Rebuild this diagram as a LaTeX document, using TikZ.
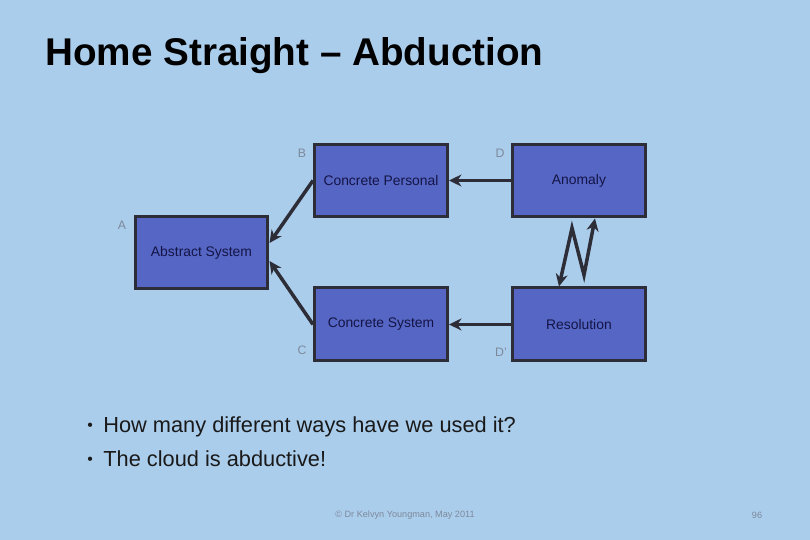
\documentclass[tikz,border=0pt]{standalone}
\usepackage{fontspec}
\setmainfont{Liberation Sans}
\usepackage{xcolor}
\usetikzlibrary{positioning, arrows.meta}

\definecolor{slidebg}{RGB}{171,205,236}
\definecolor{boxfill}{RGB}{85,102,196}
\definecolor{boxline}{RGB}{45,45,55}
\definecolor{boxtext}{RGB}{20,20,70}
\definecolor{labelgray}{RGB}{125,137,155}

\begin{document}
\begin{tikzpicture}[
    x=0.02cm, y=-0.02cm,
    node distance=1.36cm and 1.24cm,
    concept/.style={rectangle, draw=boxline, line width=0.6mm, fill=boxfill, minimum width=2.66cm, minimum height=1.46cm, inner sep=0pt, font=\fontsize{7.9}{9}\selectfont, text=boxtext},
    corner/.style={font=\fontsize{7}{8}\selectfont, text=labelgray, inner sep=0pt},
    link/.style={draw=boxline, line width=0.7mm, -{Stealth[length=2.5mm, width=2.4mm]}},
    bullet/.style={anchor=base west, inner sep=0pt, font=\fontsize{12.4}{14}\selectfont, text=black!90}
]

% Slide background
\fill[slidebg] (0,0) rectangle (810,540);
\useasboundingbox (0,0) rectangle (810,540);

% Title
\node[anchor=base west, inner sep=0pt, font=\fontsize{22}{26}\selectfont\bfseries] (title) at (45,66) {Home Straight -- Abduction};

% Boxes
\node[concept] (cpers) at (381,180.5) {Concrete Personal};
\node[concept, right=of cpers] (anom) {Anomaly};
\node[concept, below=of cpers] (csys) {Concrete System};
\node[concept, below=of anom] (res) {Resolution};
\node[concept] (abs) at (201.5,252.5) {Abstract System};

% Corner letters
\node[corner] (lblA) at (122,225) {A};
\node[corner] (lblB) at (302,153) {B};
\node[corner] (lblC) at (302,350) {C};
\node[corner] (lblD) at (500,153) {D};
\node[corner] (lblDd) at (501,352) {D'};

% Zig-zag points
\coordinate (zz1) at (572,228);
\coordinate (zz2) at (584,275);

% Edges
\draw[link] (anom) -- (cpers);
\draw[link] (res) -- (csys);
\draw[link] (cpers.west) -- ([yshift=1.9mm]abs.east);
\draw[link] (csys.west) -- ([yshift=-1.7mm]abs.east);
\draw[link, {Stealth[length=2.5mm, width=2.4mm]}-{Stealth[length=2.5mm, width=2.4mm]}] ([xshift=9.6mm]res.north west) -- (zz1) -- (zz2) -- ([xshift=16.8mm]anom.south west);

% Bullet points
\node[bullet, font=\fontsize{9}{10}\selectfont] (dot1) at (87,430) {\textbullet};
\node[bullet] (item1) at (103,432) {How many different ways have we used it?};
\node[bullet, font=\fontsize{9}{10}\selectfont] (dot2) at (87,464) {\textbullet};
\node[bullet] (item2) at (103,466) {The cloud is abductive!};

% Footer
\node[font=\fontsize{5.2}{6}\selectfont, text=labelgray, inner sep=0pt] (credit) at (405,515) {\textcopyright{} Dr Kelvyn Youngman, May 2011};
\node[font=\fontsize{5.2}{6}\selectfont, text=labelgray, inner sep=0pt] (page) at (757,515) {96};

\end{tikzpicture}
\end{document}
